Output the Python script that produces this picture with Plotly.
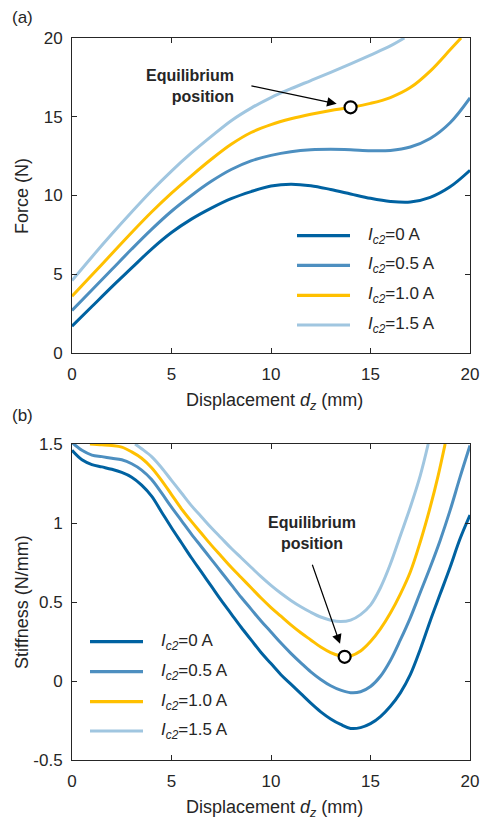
import plotly.graph_objects as go

W, H = 487, 822

# ---- (a) force vs displacement, one curve per coil current ----
fx = [0, 1, 2, 3, 4, 5, 6, 7, 8, 9, 10, 11, 12, 13, 14, 15, 16, 17, 18, 19, 20]
force_0a = [1.7, 2.95, 4.2, 5.4, 6.6, 7.65, 8.5, 9.2, 9.8, 10.25, 10.6, 10.72, 10.62,
            10.38, 10.1, 9.82, 9.62, 9.58, 9.88, 10.55, 11.6]
force_05a = [2.7, 4.0, 5.3, 6.6, 7.85, 9.0, 10.0, 10.9, 11.65, 12.2, 12.55, 12.78, 12.9,
             12.93, 12.9, 12.84, 12.86, 13.08, 13.62, 14.62, 16.2]
fx_10a = [0, 1, 2, 3, 4, 5, 6, 7, 8, 9, 10, 11, 12, 13, 14, 15, 16, 17, 18, 19, 19.55]
force_10a = [3.6, 4.95, 6.3, 7.65, 8.95, 10.15, 11.25, 12.3, 13.25, 14.0, 14.5, 14.87,
             15.16, 15.4, 15.6, 15.85, 16.22, 16.85, 17.9, 19.25, 20.0]
fx_15a = [0, 1, 2, 3, 4, 5, 6, 7, 8, 9, 10, 11, 12, 13, 14, 15, 16, 16.7]
force_15a = [4.6, 6.1, 7.55, 8.95, 10.3, 11.55, 12.7, 13.75, 14.75, 15.55, 16.22, 16.78,
             17.3, 17.82, 18.36, 18.92, 19.5, 20.0]

# ---- (b) stiffness vs displacement ----
sx = [0, 0.5, 1, 1.5, 2, 2.5, 3, 3.5, 4, 4.5, 5, 5.5, 6, 6.5, 7, 7.5, 8, 8.5, 9, 9.5, 10,
      10.5, 11, 11.5, 12, 12.5, 13, 13.5, 14, 14.5, 15, 15.5, 16, 16.5, 17, 17.5, 18,
      18.5, 19, 19.5, 20]
stiff_0a = [1.46, 1.40, 1.37, 1.355, 1.34, 1.32, 1.29, 1.24, 1.17, 1.07, 0.97, 0.875, 0.78,
            0.69, 0.60, 0.51, 0.425, 0.34, 0.26, 0.18, 0.11, 0.04, -0.02, -0.08, -0.14,
            -0.195, -0.24, -0.275, -0.30, -0.295, -0.27, -0.225, -0.16, -0.075, 0.04, 0.20,
            0.38, 0.55, 0.72, 0.90, 1.05]
stiff_05a = [1.51, 1.46, 1.43, 1.42, 1.41, 1.40, 1.375, 1.335, 1.275, 1.19, 1.10, 1.015,
             0.93, 0.85, 0.77, 0.69, 0.61, 0.53, 0.455, 0.38, 0.31, 0.24, 0.175, 0.115,
             0.058, 0.01, -0.03, -0.058, -0.074, -0.068, -0.035, 0.03, 0.13, 0.26, 0.40,
             0.56, 0.72, 0.89, 1.08, 1.29, 1.49]
sx_10a = [0.9, 1.5, 2, 2.5, 3, 3.5, 4, 4.5, 5, 5.5, 6, 6.5, 7, 7.5, 8, 8.5, 9, 9.5, 10,
          10.5, 11, 11.5, 12, 12.5, 13, 13.5, 13.7, 14, 14.5, 15, 15.5, 16, 16.5, 17,
          17.5, 18, 18.4, 18.75]
stiff_10a = [1.5, 1.495, 1.49, 1.48, 1.45, 1.41, 1.35, 1.27, 1.18, 1.09, 1.01, 0.935, 0.86,
             0.79, 0.72, 0.655, 0.59, 0.525, 0.465, 0.41, 0.355, 0.305, 0.26, 0.215, 0.18,
             0.158, 0.153, 0.158, 0.19, 0.25, 0.33, 0.43, 0.55, 0.69, 0.88, 1.1, 1.3, 1.5]
sx_15a = [3.17, 3.5, 4, 4.5, 5, 5.5, 6, 6.5, 7, 7.5, 8, 8.5, 9, 9.5, 10, 10.5, 11, 11.5,
          12, 12.5, 13, 13.5, 14, 14.5, 15, 15.5, 16, 16.5, 17, 17.5, 17.9]
stiff_15a = [1.5, 1.47, 1.42, 1.35, 1.27, 1.19, 1.11, 1.04, 0.97, 0.905, 0.84, 0.78, 0.72,
             0.66, 0.605, 0.555, 0.51, 0.47, 0.435, 0.405, 0.385, 0.376, 0.385, 0.42, 0.48,
             0.59, 0.74, 0.92, 1.1, 1.3, 1.5]

# equilibrium points on the 1.0 A curves
eq_force = (14.0, 15.6)
eq_stiff = (13.7, 0.153)

legend_names = ["<i>I</i><sub><i>c2</i></sub>=0 A", "<i>I</i><sub><i>c2</i></sub>=0.5 A",
                "<i>I</i><sub><i>c2</i></sub>=1.0 A", "<i>I</i><sub><i>c2</i></sub>=1.5 A"]
colors = ["#0062A1", "#4D8FC0", "#FFC000", "#A0C6E0"]

x_ticks = [0, 5, 10, 15, 20]
force_ticks = [0, 5, 10, 15, 20]
stiff_ticks = [-0.5, 0, 0.5, 1, 1.5]
stiff_ticktext = ["-0.5", "0", "0.5", "1", "1.5"]

FONT = "Liberation Sans, Arial, Helvetica, sans-serif"
INK = "#262626"


def px(x):
    return x / W


def py(y):
    return 1 - y / H


fig = go.Figure()

force_series = [(fx, force_0a), (fx, force_05a), (fx_10a, force_10a), (fx_15a, force_15a)]
stiff_series = [(sx, stiff_0a), (sx, stiff_05a), (sx_10a, stiff_10a), (sx_15a, stiff_15a)]

for (xs, ys), c in zip(force_series, colors):
    fig.add_trace(go.Scatter(x=xs, y=ys, mode="lines", xaxis="x", yaxis="y",
                             line=dict(color=c, width=3, shape="spline", smoothing=1.0),
                             showlegend=False, hoverinfo="skip"))
for (xs, ys), c in zip(stiff_series, colors):
    fig.add_trace(go.Scatter(x=xs, y=ys, mode="lines", xaxis="x2", yaxis="y2",
                             line=dict(color=c, width=3, shape="spline", smoothing=1.0),
                             showlegend=False, hoverinfo="skip"))

marker = dict(size=12, color="white", line=dict(color="black", width=2.2))
fig.add_trace(go.Scatter(x=[eq_force[0]], y=[eq_force[1]], mode="markers", xaxis="x",
                         yaxis="y", marker=marker, showlegend=False, cliponaxis=False))
fig.add_trace(go.Scatter(x=[eq_stiff[0]], y=[eq_stiff[1]], mode="markers", xaxis="x2",
                         yaxis="y2", marker=marker, showlegend=False, cliponaxis=False))

axis_common = dict(showgrid=False, zeroline=False, showline=True, linecolor=INK,
                   linewidth=1, mirror="allticks", ticks="inside", ticklen=5,
                   tickcolor=INK, tickwidth=1, automargin=False,
                   tickfont=dict(family=FONT, size=17, color=INK))

xdom = [px(72), px(470)]
fig.update_layout(
    width=W, height=H, margin=dict(l=0, r=0, t=0, b=0),
    paper_bgcolor="white", plot_bgcolor="white",
    xaxis=dict(axis_common, domain=xdom, range=[0, 20], tickvals=x_ticks,
               anchor="y", ticklabelstandoff=6),
    yaxis=dict(axis_common, domain=[py(353), py(38)], range=[0, 20],
               tickvals=force_ticks, anchor="x", ticklabelstandoff=5),
    xaxis2=dict(axis_common, domain=xdom, range=[0, 20], tickvals=x_ticks,
                anchor="y2", ticklabelstandoff=6),
    yaxis2=dict(axis_common, domain=[py(760), py(444)], range=[-0.5, 1.5],
                tickvals=stiff_ticks, ticktext=stiff_ticktext, anchor="x2",
                ticklabelstandoff=5),
)

ann = []
txt = dict(family=FONT, size=17, color=INK)
title_font = dict(family=FONT, size=18, color=INK)


def label(x, y, text, font, **kw):
    d = dict(x=px(x), y=py(y), xref="paper", yref="paper", text=text, showarrow=False,
             font=font, xanchor="center", yanchor="middle")
    d.update(kw)
    ann.append(d)


# panel letters
label(22, 17, "(a)", txt)
label(22, 415, "(b)", txt)

# axis titles
xtitle = "Displacement <i>d<sub>z</sub></i> (mm)"
label(274, 401, xtitle, title_font)
label(274, 808, xtitle, title_font)
label(22, 196, "Force (N)", title_font, textangle=-90)
label(22, 602, "Stiffness (N/mm)", title_font, textangle=-90)

# equilibrium callouts
bold = dict(family=FONT, size=16, color=INK)
label(236, 86, "<b>Equilibrium</b><br><b>position</b>", bold, xanchor="right",
      align="right")
ann.append(dict(x=13.3, y=15.82, ax=8.94, ay=16.98, xref="x", yref="y", axref="x",
                ayref="y", text="", showarrow=True, arrowhead=2, arrowsize=1.6,
                arrowwidth=1.2, arrowcolor="black"))
label(312, 533, "<b>Equilibrium</b><br><b>position</b>", bold, align="center")
ann.append(dict(x=13.47, y=0.235, ax=12.05, ay=0.745, xref="x2", yref="y2", axref="x2",
                ayref="y2", text="", showarrow=True, arrowhead=2, arrowsize=1.6,
                arrowwidth=1.2, arrowcolor="black"))

# hand-drawn legends (swatch line + label) inside each panel
shapes = []
legend_rows_a = [235.7, 265.3, 295.3, 325]
legend_rows_b = [641.7, 671.7, 701.7, 731]
for rows, x0, x1, xt in [(legend_rows_a, 297, 350, 366), (legend_rows_b, 90, 143, 159)]:
    for r, c, name in zip(rows, colors, legend_names):
        shapes.append(dict(type="line", xref="paper", yref="paper", x0=px(x0), x1=px(x1),
                           y0=py(r), y1=py(r), line=dict(color=c, width=3.2)))
        label(xt, r, name, txt, xanchor="left")

fig.update_layout(annotations=ann, shapes=shapes)
fig.write_html("out.html")
